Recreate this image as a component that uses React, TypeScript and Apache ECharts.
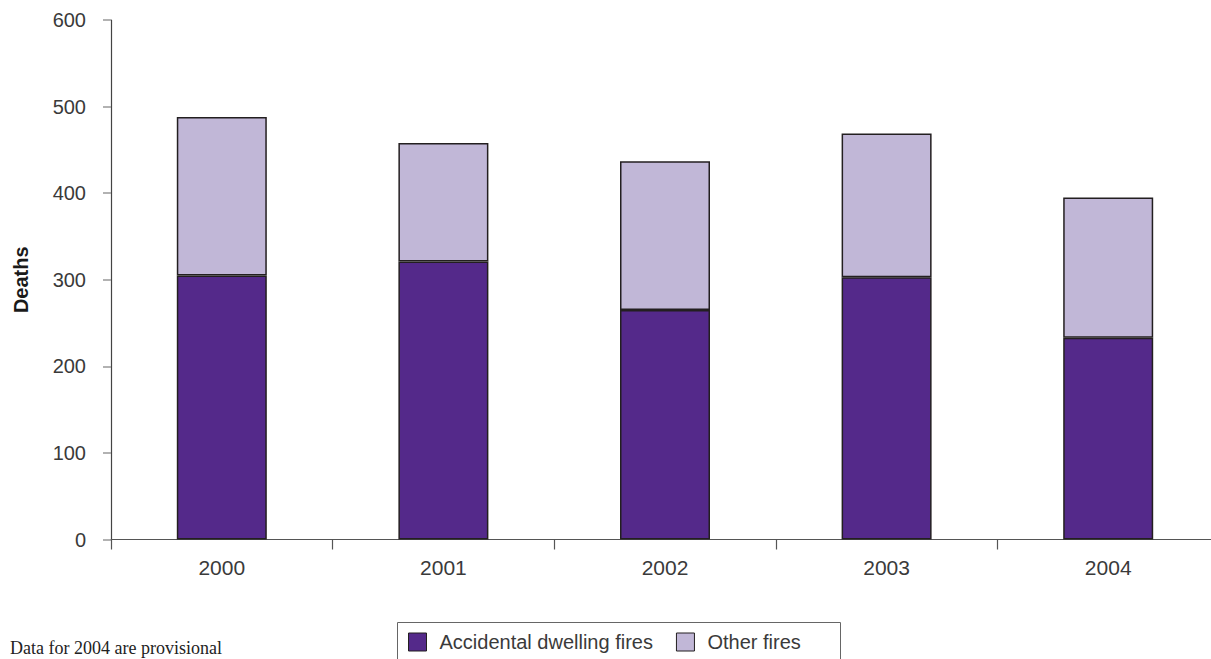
import React, { useEffect, useRef } from "react";
import * as echarts from "echarts";

const years = ["2000", "2001", "2002", "2003", "2004"];
const accidentalDwelling = [305, 321, 265, 303, 233];
const otherFires = [183, 137, 172, 166, 162];
const yTicks = [0, 100, 200, 300, 400, 500, 600];

const DARK = "#54298A";
const LIGHT = "#C1B7D7";
const EDGE = "#231F20";
const FONT = "'Liberation Sans', Arial, Helvetica, sans-serif";

export default function App() {
  const ref = useRef<HTMLDivElement>(null);
  useEffect(() => {
    if (!ref.current) return;
    const chart = echarts.init(ref.current, undefined, { renderer: "svg" });
    chart.setOption({
      animation: false,
      backgroundColor: "#ffffff",
      grid: {
        left: 111,
        right: -8,
        top: 20,
        bottom: 119.5,
        containLabel: false,
        outerBoundsMode: "none",
      },
      legend: {
        left: 408,
        top: 632,
        itemWidth: 18,
        itemHeight: 18,
        itemGap: 23,
        padding: 0,
        icon: "rect",
        textStyle: { fontFamily: FONT, fontSize: 20, color: "#3a3a3a", padding: [0, 0, 0, 8] },
        data: [
          { name: "Accidental dwelling fires", itemStyle: { color: DARK, borderColor: EDGE, borderWidth: 1 } },
          { name: "Other fires", itemStyle: { color: LIGHT, borderColor: EDGE, borderWidth: 1 } },
        ],
      },
      xAxis: {
        type: "category",
        data: years,
        boundaryGap: true,
        axisLine: { show: true, lineStyle: { color: "#555", width: 1.2 } },
        axisTick: { show: true, length: 10, lineStyle: { color: "#555", width: 1.2 } },
        axisLabel: { fontFamily: FONT, fontSize: 21, color: "#3a3a3a", margin: 17 },
        splitLine: { show: false },
      },
      yAxis: {
        type: "value",
        min: yTicks[0],
        max: yTicks[yTicks.length - 1],
        interval: 100,
        name: "Deaths",
        nameLocation: "middle",
        nameGap: 80,
        nameTextStyle: { fontFamily: FONT, fontSize: 20, fontWeight: "bold", color: "#1a1a1a" },
        axisLine: { show: true, lineStyle: { color: "#444", width: 1.2 } },
        axisTick: { show: true, length: 8, inside: false, lineStyle: { color: "#999", width: 1.5 } },
        axisLabel: { fontFamily: FONT, fontSize: 20, color: "#3a3a3a", margin: 25 },
        splitLine: { show: false },
      },
      series: [
        {
          name: "Accidental dwelling fires",
          type: "bar",
          stack: "total",
          barWidth: 90,
          data: accidentalDwelling,
          itemStyle: { color: DARK, borderColor: EDGE, borderWidth: 1.5 },
        },
        {
          name: "Other fires",
          type: "bar",
          stack: "total",
          barWidth: 90,
          data: otherFires,
          itemStyle: { color: LIGHT, borderColor: EDGE, borderWidth: 1.5 },
        },
      ],
      graphic: [
        {
          type: "rect",
          left: 395,
          top: 620,
          shape: { width: 443, height: 60 },
          style: { fill: "none", stroke: "#666", lineWidth: 1 },
          z: -1,
        },
        {
          type: "text",
          left: 10,
          top: 639,
          style: {
            text: "Data for 2004 are provisional",
            font: "18px 'Liberation Serif', 'Times New Roman', serif",
            fill: "#222",
          },
        },
      ],
    });
    return () => chart.dispose();
  }, []);
  return (
    <div
      ref={ref}
      style={{ position: "fixed", left: 0, top: 0, width: 1211, height: 659, overflow: "hidden" }}
    />
  );
}
